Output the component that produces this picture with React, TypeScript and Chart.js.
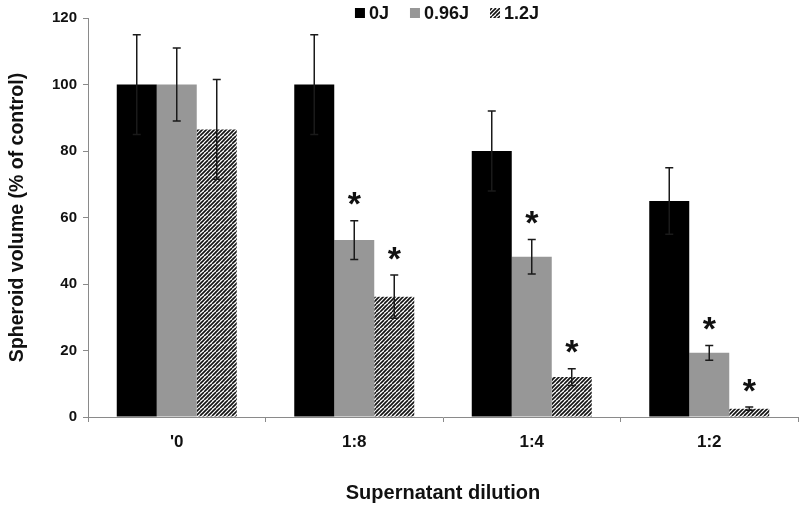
import React, { useEffect, useRef } from "react";
import { Chart, registerables } from "chart.js";

Chart.register(...registerables);

const categories = ["'0", "1:8", "1:4", "1:2"];
const seriesNames = ["0J", "0.96J", "1.2J"];
const values0J = [100, 100, 80, 65];
const errors0J = [15, 15, 12, 10];
const values096J = [100, 53.2, 48.2, 19.3];
const errors096J = [11, 5.8, 5.2, 2.2];
const values12J = [86.5, 36.2, 12, 2.5];
const errors12J = [15, 6.5, 2.5, 0.5];
const stars096J = [false, true, true, true];
const stars12J = [false, true, true, true];
const yTicks = [0, 20, 40, 60, 80, 100, 120];

const FONT = "'Liberation Sans', Arial, sans-serif";
const GRAY = "#979797";
const AXIS = "#8a8a8a";

function makeHatch(): CanvasPattern | string {
  const c = document.createElement("canvas");
  c.width = 8;
  c.height = 8;
  const g = c.getContext("2d");
  if (!g) return "#555";
  g.fillStyle = "#ffffff";
  g.fillRect(0, 0, 8, 8);
  g.strokeStyle = "#111111";
  g.lineWidth = 1.6;
  for (let k = -8; k <= 16; k += 4) {
    g.beginPath();
    g.moveTo(k, 8);
    g.lineTo(k + 8, 0);
    g.stroke();
  }
  const p = g.createPattern(c, "repeat");
  return p || "#555";
}

export default function App() {
  const ref = useRef<HTMLCanvasElement | null>(null);

  useEffect(() => {
    document.body.style.margin = "0";
    const canvas = ref.current;
    if (!canvas) return;
    const hatch = makeHatch();
    const errs = [errors0J, errors096J, errors12J];
    const stars = [null, stars096J, stars12J];
    const fills: any[] = ["#000000", GRAY, hatch];

    const overlay = {
      id: "overlay",
      afterDatasetsDraw(chart: any) {
        const ctx = chart.ctx;
        const y = chart.scales.y;
        ctx.save();
        chart.data.datasets.forEach((ds: any, di: number) => {
          const meta = chart.getDatasetMeta(di);
          meta.data.forEach((bar: any, i: number) => {
            const v = ds.data[i];
            const e = errs[di][i];
            const x = bar.x;
            const yt = y.getPixelForValue(v + e);
            const yb = y.getPixelForValue(v - e);
            ctx.strokeStyle = "#1a1a1a";
            ctx.lineWidth = 1.5;
            ctx.beginPath();
            ctx.moveTo(x, yt);
            ctx.lineTo(x, yb);
            ctx.moveTo(x - 4, yt);
            ctx.lineTo(x + 4, yt);
            ctx.moveTo(x - 4, yb);
            ctx.lineTo(x + 4, yb);
            ctx.stroke();
            const s = stars[di];
            if (s && s[i]) {
              ctx.font = `bold 34px ${FONT}`;
              ctx.fillStyle = "#111";
              ctx.textAlign = "center";
              ctx.textBaseline = "alphabetic";
              const m = ctx.measureText("*");
              const cy = yt - 22;
              const by = cy + (m.actualBoundingBoxAscent - m.actualBoundingBoxDescent) / 2;
              ctx.fillText("*", x, by);
            }
          });
        });
        // legend
        ctx.font = `bold 18px ${FONT}`;
        ctx.textBaseline = "middle";
        ctx.textAlign = "left";
        const box = 10, gap = 4, spacing = 21;
        const widths = seriesNames.map((n) => ctx.measureText(n).width);
        const total = widths.reduce((a, b) => a + b, 0) + seriesNames.length * (box + gap) + spacing * (seriesNames.length - 1);
        let lx = 447 - total / 2;
        const ly = 13;
        seriesNames.forEach((n, k) => {
          ctx.fillStyle = fills[k];
          ctx.fillRect(lx, ly - box / 2, box, box);
          ctx.fillStyle = "#111";
          ctx.fillText(n, lx + box + gap, ly + 1);
          lx += box + gap + widths[k] + spacing;
        });
        ctx.restore();
      },
    };

    const chart = new Chart(canvas, {
      type: "bar",
      data: {
        labels: categories,
        datasets: [
          { label: seriesNames[0], data: values0J, backgroundColor: "#000000", borderWidth: 0 },
          { label: seriesNames[1], data: values096J, backgroundColor: GRAY, borderWidth: 0 },
          { label: seriesNames[2], data: values12J, backgroundColor: hatch as any, borderWidth: 0 },
        ],
      },
      options: {
        responsive: false,
        animation: false,
        devicePixelRatio: 1,
        layout: { padding: { top: 18, right: 2, left: 0, bottom: 0 } },
        datasets: { bar: { barPercentage: 1, categoryPercentage: 0.676 } },
        plugins: { legend: { display: false }, tooltip: { enabled: false } },
        scales: {
          x: {
            afterFit: (s: any) => { s.height = 93; },
            grid: { display: true, drawOnChartArea: false, tickLength: 5, color: AXIS, offset: true },
            border: { display: true, color: AXIS, width: 1 },
            ticks: { color: "#111", font: { family: FONT, size: 17, weight: "bold" }, padding: 10 },
            title: {
              display: true,
              text: "Supernatant dilution",
              color: "#111",
              font: { family: FONT, size: 20, weight: "bold" },
              padding: { top: 0, bottom: 5 },
            },
          },
          y: {
            min: 0,
            max: 120,
            afterFit: (s: any) => { s.width = 88; },
            afterBuildTicks: (s: any) => { s.ticks = yTicks.map((v) => ({ value: v })); },
            grid: { display: true, drawOnChartArea: false, tickLength: 5, color: AXIS },
            border: { display: true, color: AXIS, width: 1 },
            ticks: { color: "#111", font: { family: FONT, size: 15, weight: "bold" }, padding: 6 },
            title: {
              display: true,
              text: "Spheroid volume (% of control)",
              color: "#111",
              font: { family: FONT, size: 19.5, weight: "bold" },
              padding: { top: 6, bottom: 0 },
            },
          },
        },
      },
      plugins: [overlay],
    } as any);
    return () => chart.destroy();
  }, []);

  return <canvas ref={ref} width={800} height={510} style={{ display: "block" }} />;
}
